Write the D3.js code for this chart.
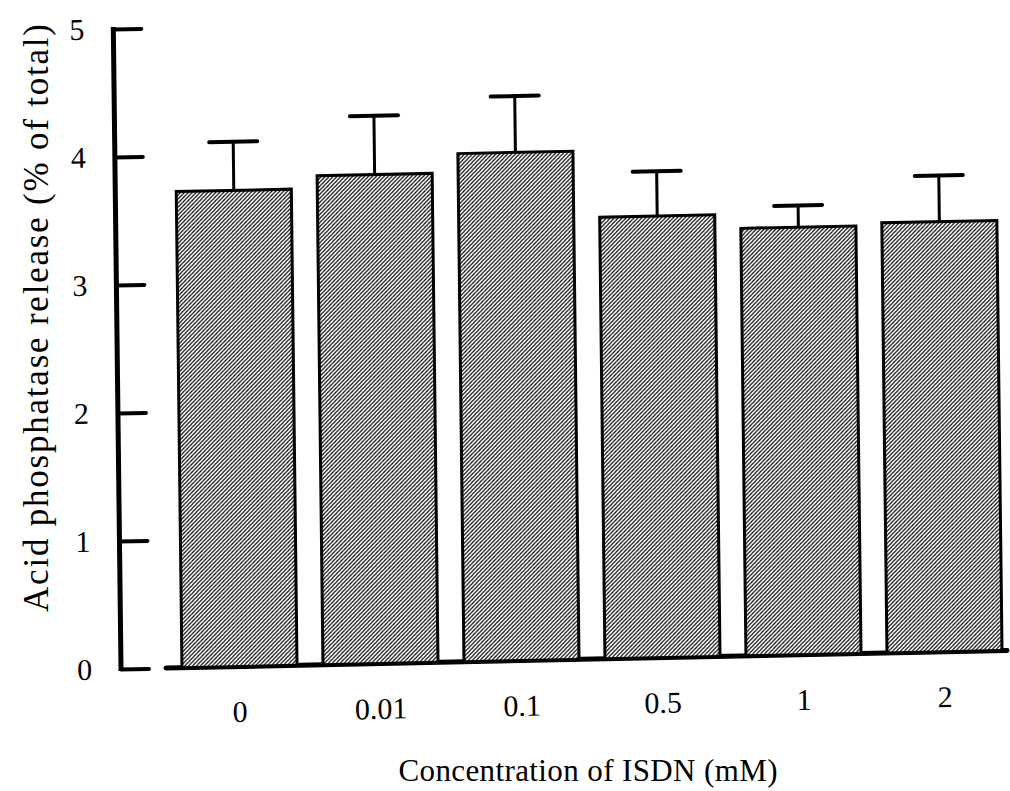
<!DOCTYPE html>
<html>
<head>
<meta charset="utf-8">
<script src="https://cdn.jsdelivr.net/npm/d3@7"></script>
<style>
  html, body { margin: 0; padding: 0; background: #fff; }
  svg { display: block; }
  text { font-family: "Liberation Serif", "Times New Roman", "DejaVu Serif", serif; fill: #000; }
</style>
</head>
<body>
<svg id="chart" width="1010" height="791"></svg>
<script>
// ISDN concentrations (mM) and acid phosphatase release (% of total), mean and SEM
const concentrations = ["0", "0.01", "0.1", "0.5", "1", "2"];
const releaseMean = [3.72, 3.82, 3.97, 3.45, 3.34, 3.36];
const releaseSem = [0.38, 0.46, 0.44, 0.35, 0.17, 0.36];
const yTickValues = [0, 1, 2, 3, 4, 5];

const xTitle = "Concentration of ISDN (mM)";
const yTitle = "Acid phosphatase release (% of total)";

const originX = 121, originY = 669;   // corner where the axes meet
const svg = d3.select("#chart");

// hatch fill for the bars: thin "/" strokes
const defs = svg.append("defs");
const pat = defs.append("pattern")
  .attr("id", "hatch")
  .attr("patternUnits", "userSpaceOnUse")
  .attr("width", 4).attr("height", 4);
pat.append("rect").attr("width", 4).attr("height", 4).attr("fill", "#fff");
pat.append("path")
  .attr("d", "M-1,1 L1,-1 M0,4 L4,0 M3,5 L5,3")
  .attr("stroke", "#000").attr("stroke-width", 1.2);

// the plotted figure sits slightly askew on the page
const skewX = 0.012, skewY = 0.021;
const g = svg.append("g")
  .attr("transform",
    `translate(${originX},${originY}) matrix(1,${-skewY},${skewX},1,0,0) translate(${-originX},${-originY})`);

const y = d3.scaleLinear().domain([0, 5]).range([originY, 29]);
const x = d3.scaleBand()
  .domain(concentrations)
  .range([169, 1015])
  .paddingInner(0.184)
  .paddingOuter(0.092);

// y axis: ticks point into the plot, labels on the left
const yAxis = d3.axisLeft(y)
  .tickValues(yTickValues)
  .tickFormat(d3.format("d"))
  .tickSizeInner(-28)
  .tickSizeOuter(0)
  .tickPadding(29);

const yg = g.append("g")
  .attr("transform", `translate(${originX},0)`)
  .call(yAxis);
yg.select(".domain").remove();
yg.selectAll(".tick line")
  .attr("stroke", "#000").attr("stroke-width", 4).attr("stroke-linecap", "round");
yg.selectAll(".tick text")
  .attr("font-size", 30)
  .style("font-family", "'Liberation Serif', 'Times New Roman', serif");

g.append("line")
  .attr("x1", originX).attr("x2", originX)
  .attr("y1", y(5) - 2).attr("y2", y(0) + 2)
  .attr("stroke", "#000").attr("stroke-width", 5);

// x axis: baseline under the bars, labels only
const xAxis = d3.axisBottom(x).tickSize(0).tickPadding(34);
const xg = g.append("g")
  .attr("transform", `translate(0,${y(0)})`)
  .call(xAxis);
xg.select(".domain").remove();
xg.selectAll(".tick text")
  .attr("font-size", 30)
  .style("font-family", "'Liberation Serif', 'Times New Roman', serif");

g.append("line")
  .attr("x1", x.range()[0] - 3)
  .attr("x2", x(concentrations[concentrations.length - 1]) + x.bandwidth() + 5)
  .attr("y1", y(0)).attr("y2", y(0))
  .attr("stroke", "#000").attr("stroke-width", 5).attr("stroke-linecap", "round");

// bars
const rows = concentrations.map((c, i) => ({ c, mean: releaseMean[i], sem: releaseSem[i] }));

g.append("g").selectAll("rect")
  .data(rows)
  .join("rect")
  .attr("x", d => x(d.c))
  .attr("width", x.bandwidth())
  .attr("y", d => y(d.mean))
  .attr("height", d => y(0) - y(d.mean))
  .attr("fill", "url(#hatch)")
  .attr("stroke", "#000")
  .attr("stroke-width", 3);

// upper error bars (mean + SEM)
const eb = g.append("g").selectAll("g")
  .data(rows)
  .join("g");
eb.append("line")
  .attr("x1", d => x(d.c) + x.bandwidth() / 2)
  .attr("x2", d => x(d.c) + x.bandwidth() / 2)
  .attr("y1", d => y(d.mean))
  .attr("y2", d => y(d.mean + d.sem))
  .attr("stroke", "#000").attr("stroke-width", 3);
eb.append("line")
  .attr("x1", d => x(d.c) + x.bandwidth() / 2 - 24)
  .attr("x2", d => x(d.c) + x.bandwidth() / 2 + 24)
  .attr("y1", d => y(d.mean + d.sem))
  .attr("y2", d => y(d.mean + d.sem))
  .attr("stroke", "#000").attr("stroke-width", 4).attr("stroke-linecap", "round");

// axis titles
svg.append("text")
  .attr("x", 588).attr("y", 781)
  .attr("text-anchor", "middle")
  .attr("font-size", 31)
  .attr("textLength", 379)
  .attr("lengthAdjust", "spacing")
  .text(xTitle);

svg.append("text")
  .attr("transform", "translate(48,318) rotate(-90)")
  .attr("text-anchor", "middle")
  .attr("font-size", 35)
  .attr("textLength", 588)
  .attr("lengthAdjust", "spacing")
  .text(yTitle);
</script>
</body>
</html>
